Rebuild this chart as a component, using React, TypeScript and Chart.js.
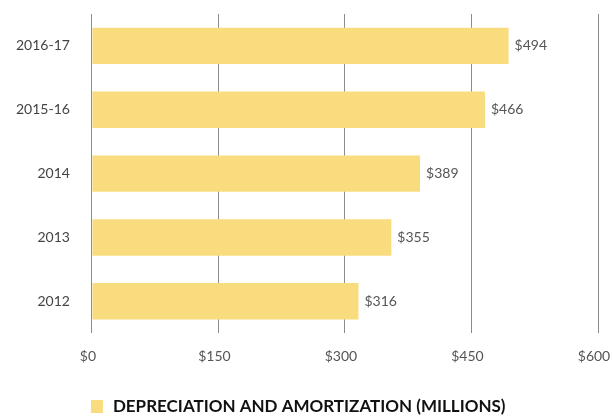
import React, { useEffect, useRef } from "react";
import { Chart, registerables } from "chart.js";

Chart.register(...registerables);

const categories = ["2016-17", "2015-16", "2014", "2013", "2012"];
const values = [494, 466, 389, 355, 316];
const xTicks = [0, 150, 300, 450, 600];
const seriesName = "DEPRECIATION AND AMORTIZATION (MILLIONS)";

const FONT = "Lato, 'Open Sans', sans-serif";
const BAR_COLOR = "#F9DC7E";

const valueLabels = {
  id: "valueLabels",
  afterDatasetsDraw(chart: any) {
    const ctx = chart.ctx;
    const meta = chart.getDatasetMeta(0);
    ctx.save();
    ctx.font = `14px ${FONT}`;
    ctx.fillStyle = "#555555";
    ctx.textAlign = "left";
    ctx.textBaseline = "middle";
    meta.data.forEach((bar: any, i: number) => {
      ctx.fillText("$" + values[i], bar.x + 6, bar.y);
    });
    ctx.restore();
  },
};

const bottomLegend = {
  id: "bottomLegend",
  afterDraw(chart: any) {
    const ctx = chart.ctx;
    const x0 = chart.chartArea.left - 1;
    const cy = chart.height - 10;
    ctx.save();
    ctx.fillStyle = chart.data.datasets[0].backgroundColor;
    ctx.fillRect(x0, cy - 6, 12, 13);
    ctx.font = `bold 17px ${FONT}`;
    ctx.fillStyle = "#111111";
    ctx.textAlign = "left";
    ctx.textBaseline = "middle";
    ctx.fillText(chart.data.datasets[0].label, x0 + 22, cy + 1);
    ctx.restore();
  },
};

export default function App() {
  const ref = useRef<HTMLCanvasElement>(null);
  useEffect(() => {
    const chart = new Chart(ref.current!, {
      type: "bar",
      data: {
        labels: categories,
        datasets: [
          {
            label: seriesName,
            data: values,
            backgroundColor: BAR_COLOR,
            borderWidth: 0,
            barPercentage: 0.57,
            categoryPercentage: 1,
          },
        ],
      },
      options: {
        indexAxis: "y",
        animation: false,
        responsive: false,
        maintainAspectRatio: false,
        layout: { padding: { left: 16, top: 14, right: 14, bottom: 51 } },
        scales: {
          x: {
            min: 0,
            max: 600,
            afterBuildTicks(axis: any) {
              axis.ticks = xTicks.map((v) => ({ value: v }));
            },
            afterFit(axis: any) {
              axis.paddingRight = 0;
              axis.paddingLeft = 0;
            },
            grid: {
              color: "#8c8c8c",
              drawTicks: true,
              tickLength: 15,
              tickColor: "rgba(0,0,0,0)",
              lineWidth: 1,
            },
            border: { display: false },
            ticks: {
              padding: 0,
              labelOffset: -4,
              color: "#555555",
              font: { family: FONT, size: 14 },
              callback: (v: any) => "$" + v,
            },
          },
          y: {
            grid: { display: false, drawTicks: true, tickLength: 22 },
            border: { display: false },
            ticks: {
              padding: 0,
              color: "#444444",
              font: { family: FONT, size: 14 },
            },
          },
        },
        plugins: {
          legend: { display: false },
          tooltip: { enabled: false },
        },
      },
      plugins: [valueLabels, bottomLegend],
    });
    return () => chart.destroy();
  }, []);
  return (
    <div style={{ position: "fixed", left: 0, top: 0, width: 612, height: 416, background: "#fff" }}>
      <canvas ref={ref} width={612} height={416} />
    </div>
  );
}
